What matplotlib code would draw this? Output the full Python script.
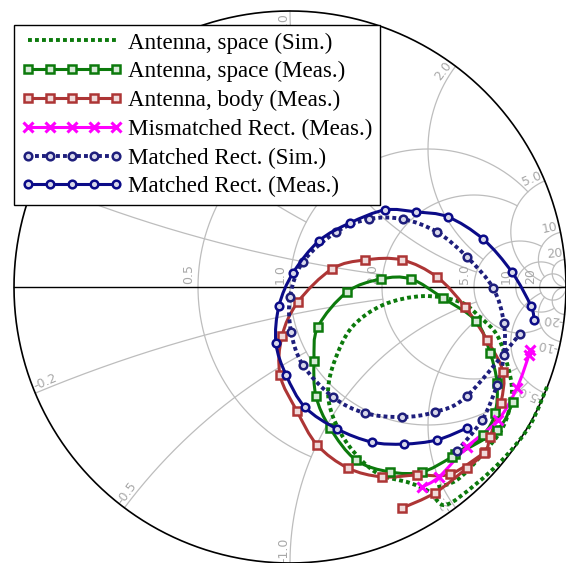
import numpy as np
import matplotlib
matplotlib.use("Agg")
import matplotlib.pyplot as plt
from matplotlib.path import Path
from matplotlib.patches import PathPatch
from matplotlib.lines import Line2D

# ---------------- data (reflection coefficient, Re / Im) ----------------
ant_sim_re = [0.931, 0.870, 0.779, 0.670, 0.562, 0.507, 0.435, 0.315, 0.217, 0.156, 0.138, 0.163, 0.225,
              0.337, 0.482, 0.616, 0.688, 0.750, 0.786, 0.804, 0.772, 0.688, 0.605, 0.525]
ant_sim_im = [-0.362, -0.500, -0.616, -0.717, -0.790, -0.743, -0.710, -0.674, -0.580, -0.471, -0.373, -0.264, -0.145,
              -0.065, -0.033, -0.054, -0.109, -0.174, -0.275, -0.384, -0.507, -0.616, -0.699, -0.728]

ant_meas_re = [0.598, 0.699, 0.743, 0.750, 0.725, 0.674, 0.554, 0.438, 0.330, 0.207, 0.101, 0.087, 0.094,
               0.145, 0.239, 0.362, 0.478, 0.587, 0.750, 0.808]
ant_meas_im = [-0.605, -0.536, -0.457, -0.348, -0.239, -0.123, -0.040, 0.029, 0.029, -0.018, -0.145, -0.268, -0.395,
               -0.511, -0.627, -0.670, -0.670, -0.616, -0.518, -0.417]

body_re = [0.406, 0.525, 0.641, 0.707, 0.725, 0.764, 0.772, 0.714, 0.634, 0.533, 0.406, 0.272, 0.152, 0.029,
           -0.029, -0.036, 0.025, 0.098, 0.210, 0.333, 0.460, 0.580, 0.703]
body_im = [-0.801, -0.746, -0.656, -0.598, -0.543, -0.420, -0.308, -0.192, -0.072, 0.036, 0.098, 0.098, 0.065, -0.054,
           -0.178, -0.319, -0.449, -0.572, -0.656, -0.688, -0.681, -0.678, -0.601]

mis_re = [0.870, 0.866, 0.822, 0.754, 0.641, 0.540, 0.478]
mis_im = [-0.228, -0.246, -0.366, -0.482, -0.580, -0.688, -0.725]

msim_re = [0.605, 0.696, 0.750, 0.775, 0.775, 0.736, 0.641, 0.533, 0.409, 0.286, 0.167, 0.047, 0.000, 0.004,
           0.047, 0.156, 0.272, 0.406, 0.525, 0.641, 0.833]
msim_im = [-0.594, -0.482, -0.355, -0.246, -0.130, -0.004, 0.109, 0.199, 0.246, 0.246, 0.199, 0.091, -0.036, -0.163,
           -0.283, -0.399, -0.457, -0.471, -0.453, -0.395, -0.170]

mmeas_re = [0.884, 0.873, 0.804, 0.699, 0.572, 0.457, 0.344, 0.217, 0.105, 0.011, -0.040, -0.051, -0.014, 0.054,
            0.170, 0.297, 0.413, 0.533, 0.641]
mmeas_im = [-0.120, -0.069, 0.054, 0.174, 0.254, 0.272, 0.279, 0.232, 0.167, 0.051, -0.069, -0.203, -0.319, -0.435,
            -0.514, -0.562, -0.569, -0.554, -0.511]

labels = ["Antenna, space (Sim.)", "Antenna, space (Meas.)", "Antenna, body (Meas.)",
          "Mismatched Rect. (Meas.)", "Matched Rect. (Sim.)", "Matched Rect. (Meas.)"]

# Smith grid values
r_vals = [0.5, 1.0, 2.0, 5.0, 10.0, 20.0]
r_xmax = [1.0, 5.0, 5.0, 10.0, 20.0, np.inf]
x_vals = [0.2, 0.5, 1.0, 2.0, 5.0, 10.0, 20.0]
x_rmax = [2.0, 1.0, 5.0, 5.0, 20.0, 20.0, np.inf]
r_labels = ["0.5", "1.0", "2.0", "5.0", "10", "20"]
x_labels = ["0.2", "0.5", "1.0", "2.0", "5.0", "10", "20"]

# ---------------- figure ----------------
W, H, DPI = 566, 563, 100
fig = plt.figure(figsize=(W / DPI, H / DPI), dpi=DPI)
ax = fig.add_axes([0, 0, 1, 1])
R = 276.0
cx, cy = 290.0, 287.0
ax.set_xlim(-cx / R, (W - cx) / R)
ax.set_ylim(-(H - cy) / R, cy / R)
ax.set_aspect("equal")
ax.axis("off")

GRID = "#bdbdbd"
LAB = "#a8a8a8"


def gam(z):
    return (z - 1) / (z + 1)


# real-part circles
for r, xm in zip(r_vals, r_xmax):
    t = np.linspace(-np.arctan(xm), np.arctan(xm), 800)
    g = gam(r + 1j * np.tan(np.clip(t, -1.5707, 1.5707)))
    ax.plot(g.real, g.imag, color=GRID, lw=0.9, zorder=1)
# reactance arcs
for x, rm in zip(x_vals, x_rmax):
    t = np.linspace(0, np.arctan(rm) if np.isfinite(rm) else 1.5707, 800)
    for s in (1, -1):
        g = gam(np.tan(t) + 1j * s * x)
        ax.plot(g.real, g.imag, color=GRID, lw=0.9, zorder=1)

# outer circle & real axis
th = np.linspace(0, 2 * np.pi, 1000)
ax.plot(np.cos(th), np.sin(th), color="black", lw=1.2, zorder=2)
ax.plot([-1, 1], [0, 0], color="black", lw=1.0, zorder=2)

# labels of real circles
for r, lab in zip(r_vals, r_labels):
    gx = gam(r)
    ax.text(gx - 3 / R, 3 / R, lab, rotation=90, rotation_mode="anchor", ha="left", va="bottom",
            fontsize=9, color=LAB, family="DejaVu Sans", zorder=1.5)
# labels of reactance arcs
for x, lab in zip(x_vals, x_labels):
    for s in (1, -1):
        g = gam(1j * s * x)
        ang = np.degrees(np.angle(g))
        px, py = 0.995 * g.real, 0.995 * g.imag
        if s > 0:
            ax.text(px, py, lab, rotation=ang, rotation_mode="anchor", ha="right", va="bottom",
                    fontsize=9, color=LAB, family="DejaVu Sans", zorder=1.5)
        else:
            ax.text(px, py, "-" + lab, rotation=ang + 180, rotation_mode="anchor", ha="left", va="bottom",
                    fontsize=9, color=LAB, family="DejaVu Sans", zorder=1.5)


# ---------------- data curves ----------------
def smooth_path(xs, ys):
    """Cubic (Catmull-Rom) path through the given data points."""
    P = np.column_stack([xs, ys]).astype(float)
    n = len(P)
    verts = [P[0]]
    codes = [Path.MOVETO]
    for i in range(n - 1):
        p0 = P[i - 1] if i > 0 else P[i]
        p1, p2 = P[i], P[i + 1]
        p3 = P[i + 2] if i + 2 < n else P[i + 1]
        verts += [p1 + (p2 - p0) / 6.0, p2 - (p3 - p1) / 6.0, p2]
        codes += [Path.CURVE4] * 3
    return Path(verts, codes)


GREEN = "#0c7a0c"
RED = "#ad3535"
MAG = "#ff00ff"
NAVY = "#0b0b88"
NAVY2 = "#1e1e7c"
MS = 5.5
DOT = (0, (1, 0.8))

series = [
    # x, y, colour, linestyle, lw, marker, ms, mew, mfc, zorder
    (ant_sim_re, ant_sim_im, GREEN, DOT, 2.8, None, 0, 0, None, 3),
    (ant_meas_re, ant_meas_im, GREEN, "-", 2.2, "s", MS, 1.8, "#d8ead8", 4),
    (body_re, body_im, RED, "-", 2.2, "s", MS, 1.8, "#f0dada", 4),
    (mis_re, mis_im, MAG, "-", 2.2, "x", 7.5, 2.2, None, 4),
    (msim_re, msim_im, NAVY2, DOT, 2.8, "o", MS, 1.8, "#d8d8ea", 4),
    (mmeas_re, mmeas_im, NAVY, "-", 2.2, "o", MS, 1.8, "#d8d8ea", 5),
]

handles = []
for xs, ys, col, ls, lw, mk, ms, mew, mfc, zo in series:
    patch = PathPatch(smooth_path(xs, ys), fill=False, edgecolor=col, lw=lw, ls=ls,
                      capstyle="butt", joinstyle="round", zorder=zo)
    ax.add_patch(patch)
    if mk is not None:
        ax.plot(xs, ys, ls="none", marker=mk, ms=ms, mew=mew, mec=col,
                mfc=(mfc if mfc is not None else col), zorder=zo + 0.1)
    handles.append(Line2D([], [], color=col, ls=ls, lw=lw, marker=mk, ms=ms, mew=mew, mec=col,
                          mfc=(mfc if mfc is not None else col), dash_capstyle="butt"))

leg = fig.legend(handles, labels, loc="upper left",
                 bbox_to_anchor=(14 / W, 1 - 25 / H), borderaxespad=0, numpoints=5,
                 handlelength=4.4, handletextpad=0.22, labelspacing=0.33, borderpad=0.32,
                 fancybox=False, framealpha=1, edgecolor="black",
                 prop={"family": "Liberation Serif", "size": 16.6})
leg.get_frame().set_linewidth(1.0)
leg.set_zorder(10)

fig.savefig("out.png", dpi=DPI)
